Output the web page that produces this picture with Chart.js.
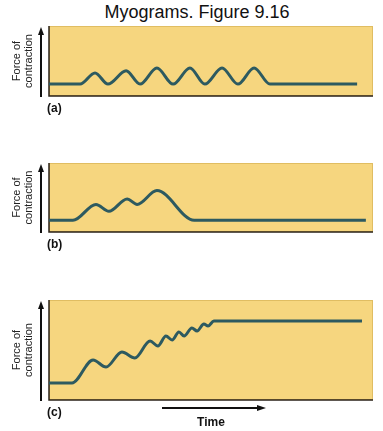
<!DOCTYPE html>
<html>
<head>
<meta charset="utf-8">
<script src="https://cdn.jsdelivr.net/npm/chart.js@4"></script>
<style>
body { margin: 0; background: #fff; width: 383px; height: 431px; position: relative; overflow: hidden; font-family: "Liberation Sans", Arial, sans-serif; }
#title { position: absolute; left: 0; top: 1px; width: 394px; text-align: center; font-size: 18px; line-height: 22px; color: #111; }
canvas { position: absolute; left: 0; }
</style>
</head>
<body>
<div id="title">Myograms. Figure 9.16</div>
<canvas id="panelA" width="383" height="125" style="top:20px"></canvas>
<canvas id="panelB" width="383" height="135" style="top:150px"></canvas>
<canvas id="panelC" width="383" height="146" style="top:285px"></canvas>
<script>
// (a) separate twitches
var timeA = [0, 9.6, 14.2, 18.2, 23.8, 28.1, 33.3, 38.3, 43.5, 48.1, 53.4, 58.3, 63.3, 68.2, 95.1];
var forceA = [17, 17, 33, 17, 36, 17, 40, 17, 40, 17, 40, 17, 40, 17, 17];

// (b) summation
var timeB = [0, 7.4, 14.5, 18.5, 24.1, 27.2, 33.3, 44.8, 97.8];
var forceB = [17, 17, 40, 30, 48, 40, 60, 17, 17];

// (c) tetanus
var timeC = [0, 7.1, 13.6, 17.6, 22.5, 26.5, 31.2, 33.6, 36.1, 38.0, 40.1, 41.7, 44.1, 45.7, 47.8, 49.1, 50.9, 96.6];
var forceC = [17, 17, 40, 33, 48, 42, 59, 54, 64, 60, 68, 64, 72, 69, 76, 74, 79, 79];

var lineColor = '#2d5a60';
var boxColor = '#f6d67f';

Chart.defaults.font.family = '"Liberation Sans", Arial, sans-serif';

var decor = {
    id: 'decor',
    beforeDraw: function (chart) {
        var ctx = chart.ctx, a = chart.chartArea;
        ctx.save();
        ctx.fillStyle = boxColor;
        ctx.fillRect(a.left, a.top, a.right - a.left, a.bottom - a.top);
        ctx.strokeStyle = '#e0bd62';
        ctx.lineWidth = 1;
        ctx.strokeRect(a.left + 0.5, a.top + 0.5, a.right - a.left - 1, a.bottom - a.top - 1);
        ctx.strokeStyle = '#2a2218';
        ctx.lineWidth = 1.5;
        ctx.beginPath();
        ctx.moveTo(a.left, a.top);
        ctx.lineTo(a.left, a.bottom);
        ctx.lineTo(a.right, a.bottom);
        ctx.stroke();
        ctx.restore();
    },
    afterDraw: function (chart, args, opts) {
        var ctx = chart.ctx, a = chart.chartArea;
        ctx.save();
        ctx.fillStyle = '#111';
        ctx.strokeStyle = '#111';
        ctx.lineWidth = 2;
        // force arrow
        var ax = a.left - 8;
        ctx.beginPath();
        ctx.moveTo(ax, a.bottom + 1);
        ctx.lineTo(ax, a.top + 8);
        ctx.stroke();
        ctx.beginPath();
        ctx.moveTo(ax, a.top + 1);
        ctx.lineTo(ax - 3, a.top + 9);
        ctx.lineTo(ax + 3, a.top + 9);
        ctx.closePath();
        ctx.fill();
        // panel letter
        ctx.font = 'bold 12px "Liberation Sans", Arial, sans-serif';
        ctx.textBaseline = 'alphabetic';
        ctx.fillText(opts.label, a.left - 2, a.bottom + 16);
        // time arrow
        if (opts.timeArrow) {
            var y = a.bottom + 8, x0 = a.left + 113, x1 = a.left + 217;
            ctx.beginPath();
            ctx.moveTo(x0, y);
            ctx.lineTo(x1 - 8, y);
            ctx.stroke();
            ctx.beginPath();
            ctx.moveTo(x1, y);
            ctx.lineTo(x1 - 9, y - 3);
            ctx.lineTo(x1 - 9, y + 3);
            ctx.closePath();
            ctx.fill();
        }
        ctx.restore();
    }
};

function makeChart(id, time, force, label, showTime, pad) {
    return new Chart(id, {
        type: 'line',
        data: {
            datasets: [{
                data: time.map(function (t, i) { return { x: t, y: force[i] }; }),
                borderColor: lineColor,
                borderWidth: 3,
                pointRadius: 0,
                cubicInterpolationMode: 'monotone',
                fill: false,
                clip: false
            }]
        },
        options: {
            responsive: false,
            animation: false,
            events: [],
            layout: { padding: pad },
            scales: {
                x: {
                    type: 'linear', min: 0, max: 100,
                    display: showTime,
                    grid: { display: false },
                    border: { display: false },
                    ticks: { display: false },
                    title: {
                        display: true, text: 'Time', color: '#111',
                        font: { size: 12, weight: 'bold' },
                        padding: { top: 0, bottom: 1 }
                    },
                    afterFit: function (s) { s.height = 31; }
                },
                y: {
                    min: 0, max: 100,
                    grid: { display: false },
                    border: { display: false },
                    ticks: { display: false },
                    title: {
                        display: true, text: ['Force of', 'contraction'], color: '#222',
                        font: { size: 11, lineHeight: 1.1 },
                        padding: { top: 11, bottom: 0 }
                    },
                    afterFit: function (s) { s.width = 49; }
                }
            },
            plugins: {
                legend: { display: false },
                tooltip: { enabled: false },
                decor: { label: label, timeArrow: showTime }
            }
        },
        plugins: [decor]
    });
}

makeChart('panelA', timeA, forceA, '(a)', false, { top: 6, bottom: 18, right: 10, left: 0 });
makeChart('panelB', timeB, forceB, '(b)', false, { top: 13, bottom: 22, right: 10, left: 0 });
makeChart('panelC', timeC, forceC, '(c)', true, { top: 15, bottom: 0, right: 10, left: 0 });
</script>
</body>
</html>
